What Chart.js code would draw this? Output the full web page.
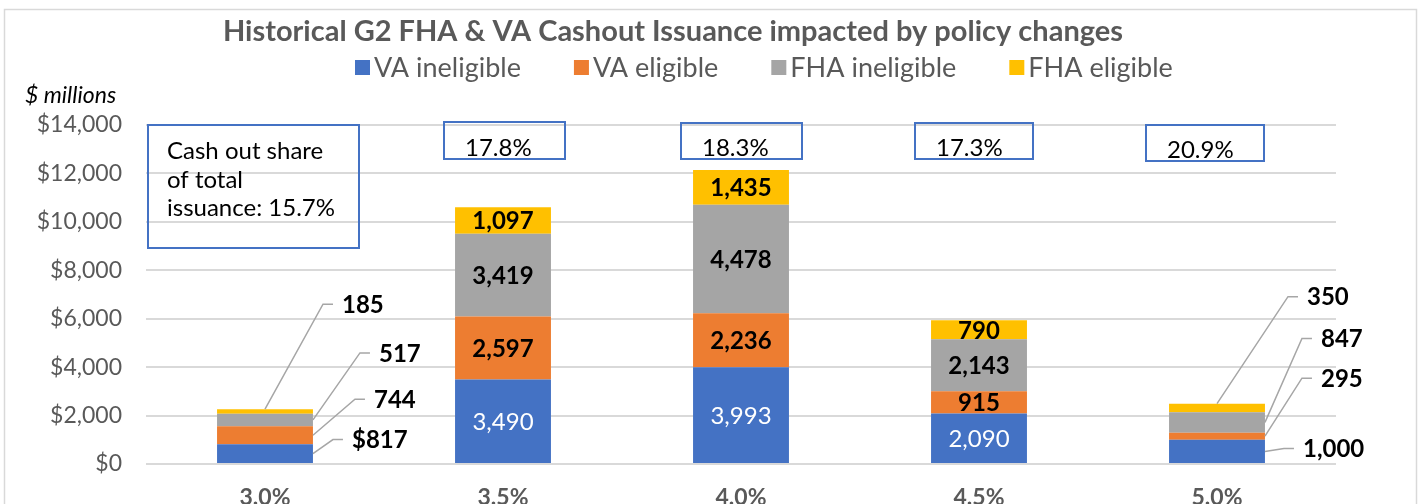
<!DOCTYPE html>
<html>
<head>
<meta charset="utf-8">
<script src="https://cdn.jsdelivr.net/npm/chart.js@4.4.0/dist/chart.umd.min.js"></script>
<style>
  html, body { margin: 0; padding: 0; background: #fff; }
  #wrap { position: relative; width: 1419px; height: 504px; }
</style>
</head>
<body>
<div id="wrap"><canvas id="barChart"></canvas></div>
<script>
// ** data
const categories = ['3.0%', '3.5%', '4.0%', '4.5%', '5.0%'];
const vaIneligible = [817, 3490, 3993, 2090, 1000];
const vaEligible = [744, 2597, 2236, 915, 295];
const fhaIneligible = [517, 3419, 4478, 2143, 847];
const fhaEligible = [185, 1097, 1435, 790, 350];
const seriesNames = ['VA ineligible', 'VA eligible', 'FHA ineligible', 'FHA eligible'];
const seriesColors = ['#4472C4', '#ED7D31', '#A5A5A5', '#FFC000'];
const yTickValues = [0, 2000, 4000, 6000, 8000, 10000, 12000, 14000];
const shareText = [
    ['Cash out share', 'of total', 'issuance: 15.7%'],
    ['17.8%'], ['18.3%'], ['17.3%'], ['20.9%']
];

// label callouts for the small bars: elbow offset from anchor, per series
const calloutOffsets = {
    0: [[20, -14], [42, -36], [47, -67], [58, -105]],
    4: [[19, -3], [37, -58], [37, -84], [71, -107]]
};
// share boxes: [dx from category centre, width, dy from plot top, height]
const shareBoxes = [
    [-117, 211, 0, 123],
    [-59, 121, -3, 37],
    [-60, 121, -2, 36],
    [-64, 118, -2, 36],
    [-71, 118, 0, 36]
];

const FONT = 'Lato';
const GREY = '#595959';

const fmt = v => v.toLocaleString('en-US');

const extrasPlugin = {
    id: 'extras',
    afterLayout(chart) {
        // nudge the title a little right, like the original
        if (chart.titleBlock) {
            chart.titleBlock.left += 5;
            chart.titleBlock.right += 5;
        }
    },
    beforeDraw(chart) {
        const ctx = chart.ctx;
        ctx.save();
        ctx.strokeStyle = '#d9d9d9';
        ctx.lineWidth = 1.5;
        ctx.strokeRect(4.5, 9.5, 1412, 600);
        ctx.restore();
    },
    afterDatasetsDraw(chart) {
        const ctx = chart.ctx;
        const area = chart.chartArea;
        const xs = chart.scales.x;
        ctx.save();

        // legend
        ctx.font = `27px ${FONT}`;
        ctx.textBaseline = 'alphabetic';
        ctx.textAlign = 'left';
        let lx = 355;
        seriesNames.forEach((name, i) => {
            ctx.fillStyle = seriesColors[i];
            ctx.fillRect(lx, 60, 15, 15);
            ctx.fillStyle = GREY;
            ctx.fillText(name, lx + 19, 77);
            lx += 19 + ctx.measureText(name).width + 53;
        });

        // $ millions
        ctx.font = `italic 23px ${FONT}`;
        ctx.fillStyle = '#000';
        ctx.fillText('$ millions', 25, 103);

        // data labels
        chart.data.datasets.forEach((ds, di) => {
            const meta = chart.getDatasetMeta(di);
            meta.data.forEach((bar, ci) => {
                const mid = (bar.y + bar.base) / 2;
                const txt = (di === 0 && ci === 0 ? '$' : '') + fmt(ds.data[ci]);
                if (calloutOffsets[ci]) {
                    const ax = di === 3 ? bar.x : bar.x + bar.width / 2;
                    const ay = di === 3 ? bar.y : mid;
                    const [dx, dy] = calloutOffsets[ci][di];
                    ctx.strokeStyle = '#a6a6a6';
                    ctx.lineWidth = 1.5;
                    ctx.beginPath();
                    ctx.moveTo(ax, ay);
                    ctx.lineTo(ax + dx, ay + dy);
                    ctx.lineTo(ax + dx + 10, ay + dy);
                    ctx.stroke();
                    ctx.font = `bold 24px ${FONT}`;
                    ctx.fillStyle = '#000';
                    ctx.textAlign = 'left';
                    ctx.textBaseline = 'middle';
                    ctx.fillText(txt, ax + dx + 19, ay + dy + 1);
                } else {
                    ctx.font = di === 0 ? `24px ${FONT}` : `bold 24px ${FONT}`;
                    ctx.fillStyle = di === 0 ? '#fff' : '#000';
                    ctx.textAlign = 'center';
                    ctx.textBaseline = 'middle';
                    ctx.fillText(txt, bar.x, mid + 1);
                }
            });
        });

        // cash out share boxes
        shareBoxes.forEach((b, ci) => {
            const cx = xs.getPixelForValue(ci);
            const left = cx + b[0];
            const top = area.top + b[2];
            ctx.strokeStyle = '#4472C4';
            ctx.lineWidth = 2;
            ctx.strokeRect(left, top, b[1], b[3]);
            ctx.font = `24px ${FONT}`;
            ctx.fillStyle = '#000';
            ctx.textAlign = 'left';
            ctx.textBaseline = 'alphabetic';
            const lines = shareText[ci];
            if (lines.length > 1) {
                lines.forEach((ln, k) => ctx.fillText(ln, left + 19, top + 34 + k * 28.5));
            } else {
                ctx.fillText(lines[0], left + 21, top + b[3] - 3);
            }
        });
        ctx.restore();
    }
};

const datasets = [vaIneligible, vaEligible, fhaIneligible, fhaEligible].map((values, i) => ({
    label: seriesNames[i],
    data: values,
    backgroundColor: seriesColors[i],
    borderWidth: 0,
    barPercentage: 0.403,
    categoryPercentage: 1
}));

new Chart(document.getElementById('barChart'), {
    type: 'bar',
    data: { labels: categories, datasets: datasets },
    options: {
        responsive: true,
        maintainAspectRatio: false,
        animation: false,
        devicePixelRatio: 1,
        layout: { padding: { left: 0, right: 83, top: 0, bottom: 0 } },
        plugins: {
            legend: { display: false },
            tooltip: { enabled: false },
            title: {
                display: true,
                text: 'Historical G2 FHA & VA Cashout Issuance impacted by policy changes',
                color: GREY,
                font: { family: FONT, size: 29, weight: 'bold' },
                padding: { top: 14.6, bottom: 75.6 }
            }
        },
        scales: {
            x: {
                stacked: true,
                grid: { display: false, drawTicks: false },
                border: { display: false },
                ticks: { color: GREY, font: { family: FONT, size: 23, weight: 'bold' }, padding: 20 },
                afterFit: s => { s.height = 40; }
            },
            y: {
                stacked: true,
                min: 0,
                max: 14000,
                afterBuildTicks: s => { s.ticks = yTickValues.map(v => ({ value: v })); },
                grid: { color: '#d9d9d9', lineWidth: 2, drawTicks: false },
                border: { display: false },
                ticks: {
                    color: GREY,
                    font: { family: FONT, size: 23 },
                    padding: 24,
                    callback: v => '$' + fmt(v)
                },
                afterFit: s => { s.width = 146; }
            }
        }
    },
    plugins: [extrasPlugin]
});
</script>
</body>
</html>
